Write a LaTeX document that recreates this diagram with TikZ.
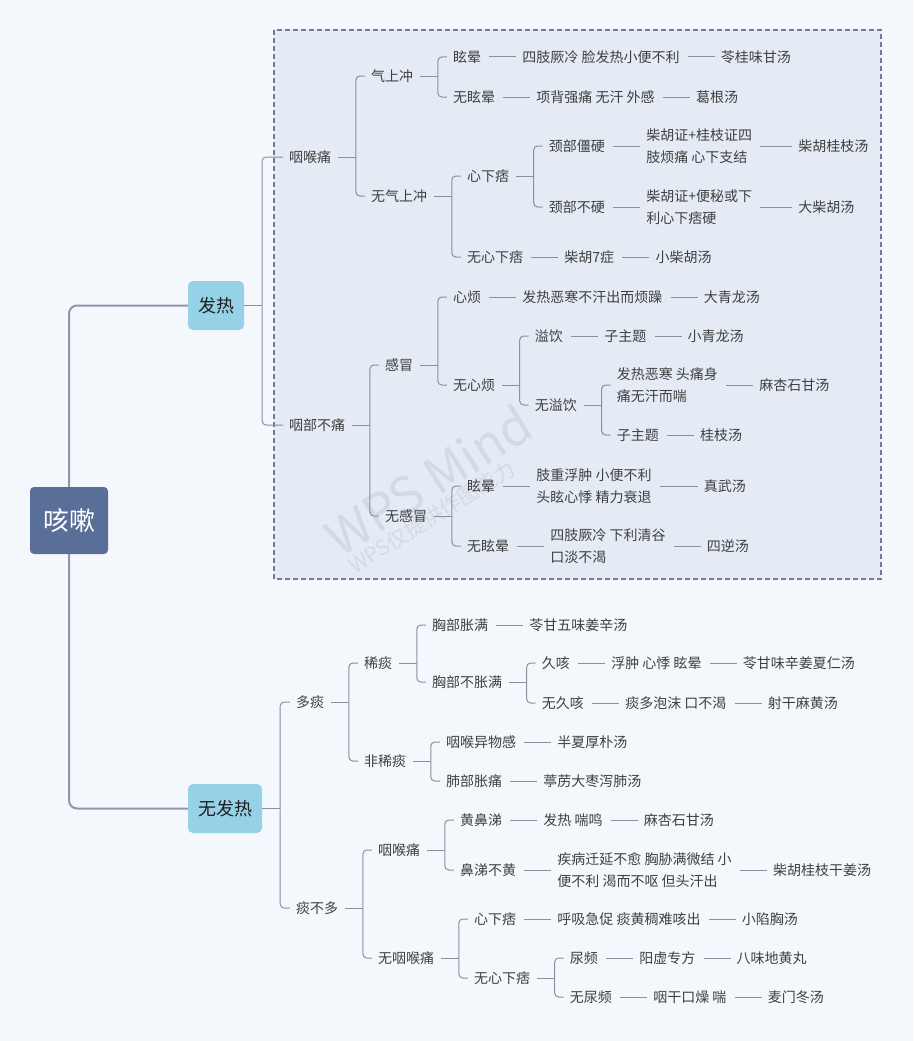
\documentclass[tikz,border=0pt]{standalone}
\usepackage{fontspec}
\setmainfont{Noto Sans CJK SC}
\usetikzlibrary{positioning,calc}
\definecolor{bgc}{HTML}{F4F8FD}
\definecolor{boxc}{HTML}{E4EBF5}
\definecolor{dashc}{HTML}{6D7B9B}
\definecolor{rootc}{HTML}{5A6F97}
\definecolor{lonec}{HTML}{95D1E7}
\definecolor{linec}{HTML}{8A909E}
\definecolor{mainc}{HTML}{8E97A9}
\definecolor{txtc}{HTML}{3F3F3F}
\definecolor{wmc}{HTML}{C3CAD6}
\tikzset{
  txt/.style={font=\fontsize{14}{22}\selectfont, text=txtc, inner sep=0pt, anchor=west, align=left},
  conn/.style={draw=linec, line width=1pt},
  lk/.style={conn, shorten <=8pt, shorten >=6pt},
  br/.style={conn, rounded corners=4pt, shorten >=6pt},
  mainln/.style={draw=mainc, line width=2pt, rounded corners=8pt},
  rootn/.style={fill=rootc, text=white, rounded corners=4pt, minimum width=78pt, minimum height=67pt, inner sep=0pt, font=\fontsize{26}{26}\selectfont},
  lonen/.style={fill=lonec, text=black!88, rounded corners=5pt, minimum height=49pt, inner sep=0pt, font=\fontsize{18}{18}\selectfont},
  wmark/.style={text=wmc, rotate=32, inner sep=0pt, opacity=0.5},
}
\newcommand\mfork[1]{\coordinate (#1j) at ($(#1.east)+(24.5,0)$);\draw[conn,shorten <=7pt] (#1.east) -- (#1j);}
\newcommand\kid[4]{\node[txt,xshift=15pt] (#2) at (#1j |- 0,#3) {#4};\draw[br] (#1j) |- (#2.west);}
\newcommand\nxt[4][41pt]{\node[txt,right=#1 of #2] (#3) {#4};\draw[lk] (#2.east) -- (#3.west);}
\begin{document}
\begin{tikzpicture}[x=1pt,y=-1pt]
\fill[bgc] (0,0) rectangle (913,1041);
\useasboundingbox (0,0) rectangle (913,1041);
\draw[dashc, fill=boxc, line width=1.5pt, dash pattern=on 5pt off 3pt] (274,30) rectangle (881,579);
% watermark
\node[wmark, font=\fontsize{50}{50}\selectfont] (wm1) at (428,480) {WPS Mind};
\node[wmark, font=\fontsize{21}{21}\selectfont] (wm2) at (432,517) {WPS仅提供作图能力};
% root and level 1
\node[rootn] (root) at (69,520.5) {咳嗽};
\node[lonen, minimum width=56pt] (fr) at (216,305.5) {发热};
\node[lonen, minimum width=74pt] (wfr) at (225,808.5) {无发热};
\draw[mainln] (root.north) |- (fr.west);
\draw[mainln] (root.south) |- (wfr.west);
% ---------- 发热 ----------
\coordinate (frj) at ($(fr.east)+(18,0)$);
\draw[conn] (fr.east) -- (frj);
\node[txt] (a1) at (289,157) {咽喉痛};
\node[txt] (a2) at (289,425) {咽部不痛};
\draw[br] (frj) |- (a1.west);
\draw[br] (frj) |- (a2.west);
% 咽喉痛
\mfork{a1}
\kid{a1}{a11}{76}{气上冲}
\kid{a1}{a12}{196}{无气上冲}
\mfork{a11}
\kid{a11}{a111}{57}{眩晕}
\nxt{a111}{a111b}{四肢厥冷 脸发热小便不利}
\nxt{a111b}{a111c}{苓桂味甘汤}
\kid{a11}{a112}{97}{无眩晕}
\nxt{a112}{a112b}{项背强痛 无汗 外感}
\nxt{a112b}{a112c}{葛根汤}
\mfork{a12}
\kid{a12}{a121}{176}{心下痞}
\kid{a12}{a122}{257}{无心下痞}
\nxt{a122}{a122b}{柴胡7症}
\nxt{a122b}{a122c}{小柴胡汤}
\mfork{a121}
\kid{a121}{a1211}{146}{颈部僵硬}
\nxt{a1211}{a1211b}{柴胡证+桂枝证四\\肢烦痛 心下支结}
\nxt[46pt]{a1211b}{a1211c}{柴胡桂枝汤}
\kid{a121}{a1212}{207}{颈部不硬}
\nxt{a1212}{a1212b}{柴胡证+便秘或下\\利心下痞硬}
\nxt[46pt]{a1212b}{a1212c}{大柴胡汤}
% 咽部不痛
\mfork{a2}
\kid{a2}{a21}{365}{感冒}
\kid{a2}{a22}{516}{无感冒}
\mfork{a21}
\kid{a21}{a211}{297}{心烦}
\nxt{a211}{a211b}{发热恶寒不汗出而烦躁}
\nxt{a211b}{a211c}{大青龙汤}
\kid{a21}{a212}{385}{无心烦}
\mfork{a212}
\kid{a212}{a2121}{336}{溢饮}
\nxt{a2121}{a2121b}{子主题}
\nxt{a2121b}{a2121c}{小青龙汤}
\kid{a212}{a2122}{405}{无溢饮}
\mfork{a2122}
\kid{a2122}{a21221}{385}{发热恶寒 头痛身\\痛无汗而喘}
\nxt{a21221}{a21221b}{麻杏石甘汤}
\kid{a2122}{a21222}{435}{子主题}
\nxt{a21222}{a21222b}{桂枝汤}
\mfork{a22}
\kid{a22}{a221}{486}{眩晕}
\nxt{a221}{a221b}{肢重浮肿 小便不利\\头眩心悸 精力衰退}
\nxt[52pt]{a221b}{a221c}{真武汤}
\kid{a22}{a222}{546}{无眩晕}
\nxt{a222}{a222b}{四肢厥冷 下利清谷\\口淡不渴}
\nxt{a222b}{a222c}{四逆汤}
% ---------- 无发热 ----------
\coordinate (wfrj) at ($(wfr.east)+(18,0)$);
\draw[conn] (wfr.east) -- (wfrj);
\node[txt] (b1) at (296,702) {多痰};
\node[txt] (b2) at (296,908) {痰不多};
\draw[br] (wfrj) |- (b1.west);
\draw[br] (wfrj) |- (b2.west);
% 多痰
\mfork{b1}
\kid{b1}{b11}{663}{稀痰}
\kid{b1}{b12}{761}{非稀痰}
\mfork{b11}
\kid{b11}{b111}{625}{胸部胀满}
\nxt{b111}{b111b}{苓甘五味姜辛汤}
\kid{b11}{b112}{682}{胸部不胀满}
\mfork{b112}
\kid{b112}{b1121}{663}{久咳}
\nxt{b1121}{b1121b}{浮肿 心悸 眩晕}
\nxt{b1121b}{b1121c}{苓甘味辛姜夏仁汤}
\kid{b112}{b1122}{703}{无久咳}
\nxt{b1122}{b1122b}{痰多泡沫 口不渴}
\nxt{b1122b}{b1122c}{射干麻黄汤}
\mfork{b12}
\kid{b12}{b121}{742}{咽喉异物感}
\nxt{b121}{b121b}{半夏厚朴汤}
\kid{b12}{b122}{781}{肺部胀痛}
\nxt{b122}{b122b}{葶苈大枣泻肺汤}
% 痰不多
\mfork{b2}
\kid{b2}{b21}{850}{咽喉痛}
\kid{b2}{b22}{958}{无咽喉痛}
\mfork{b21}
\kid{b21}{b211}{820}{黄鼻涕}
\nxt{b211}{b211b}{发热 喘鸣}
\nxt{b211b}{b211c}{麻杏石甘汤}
\kid{b21}{b212}{870}{鼻涕不黄}
\nxt{b212}{b212b}{疾病迁延不愈 胸胁满微结 小\\便不利 渴而不呕 但头汗出}
\nxt{b212b}{b212c}{柴胡桂枝干姜汤}
\mfork{b22}
\kid{b22}{b221}{919}{心下痞}
\nxt{b221}{b221b}{呼吸急促 痰黄稠难咳出}
\nxt{b221b}{b221c}{小陷胸汤}
\kid{b22}{b222}{978}{无心下痞}
\mfork{b222}
\kid{b222}{b2221}{958}{尿频}
\nxt{b2221}{b2221b}{阳虚专方}
\nxt{b2221b}{b2221c}{八味地黄丸}
\kid{b222}{b2222}{997}{无尿频}
\nxt{b2222}{b2222b}{咽干口燥 喘}
\nxt{b2222b}{b2222c}{麦门冬汤}
\end{tikzpicture}
\end{document}
